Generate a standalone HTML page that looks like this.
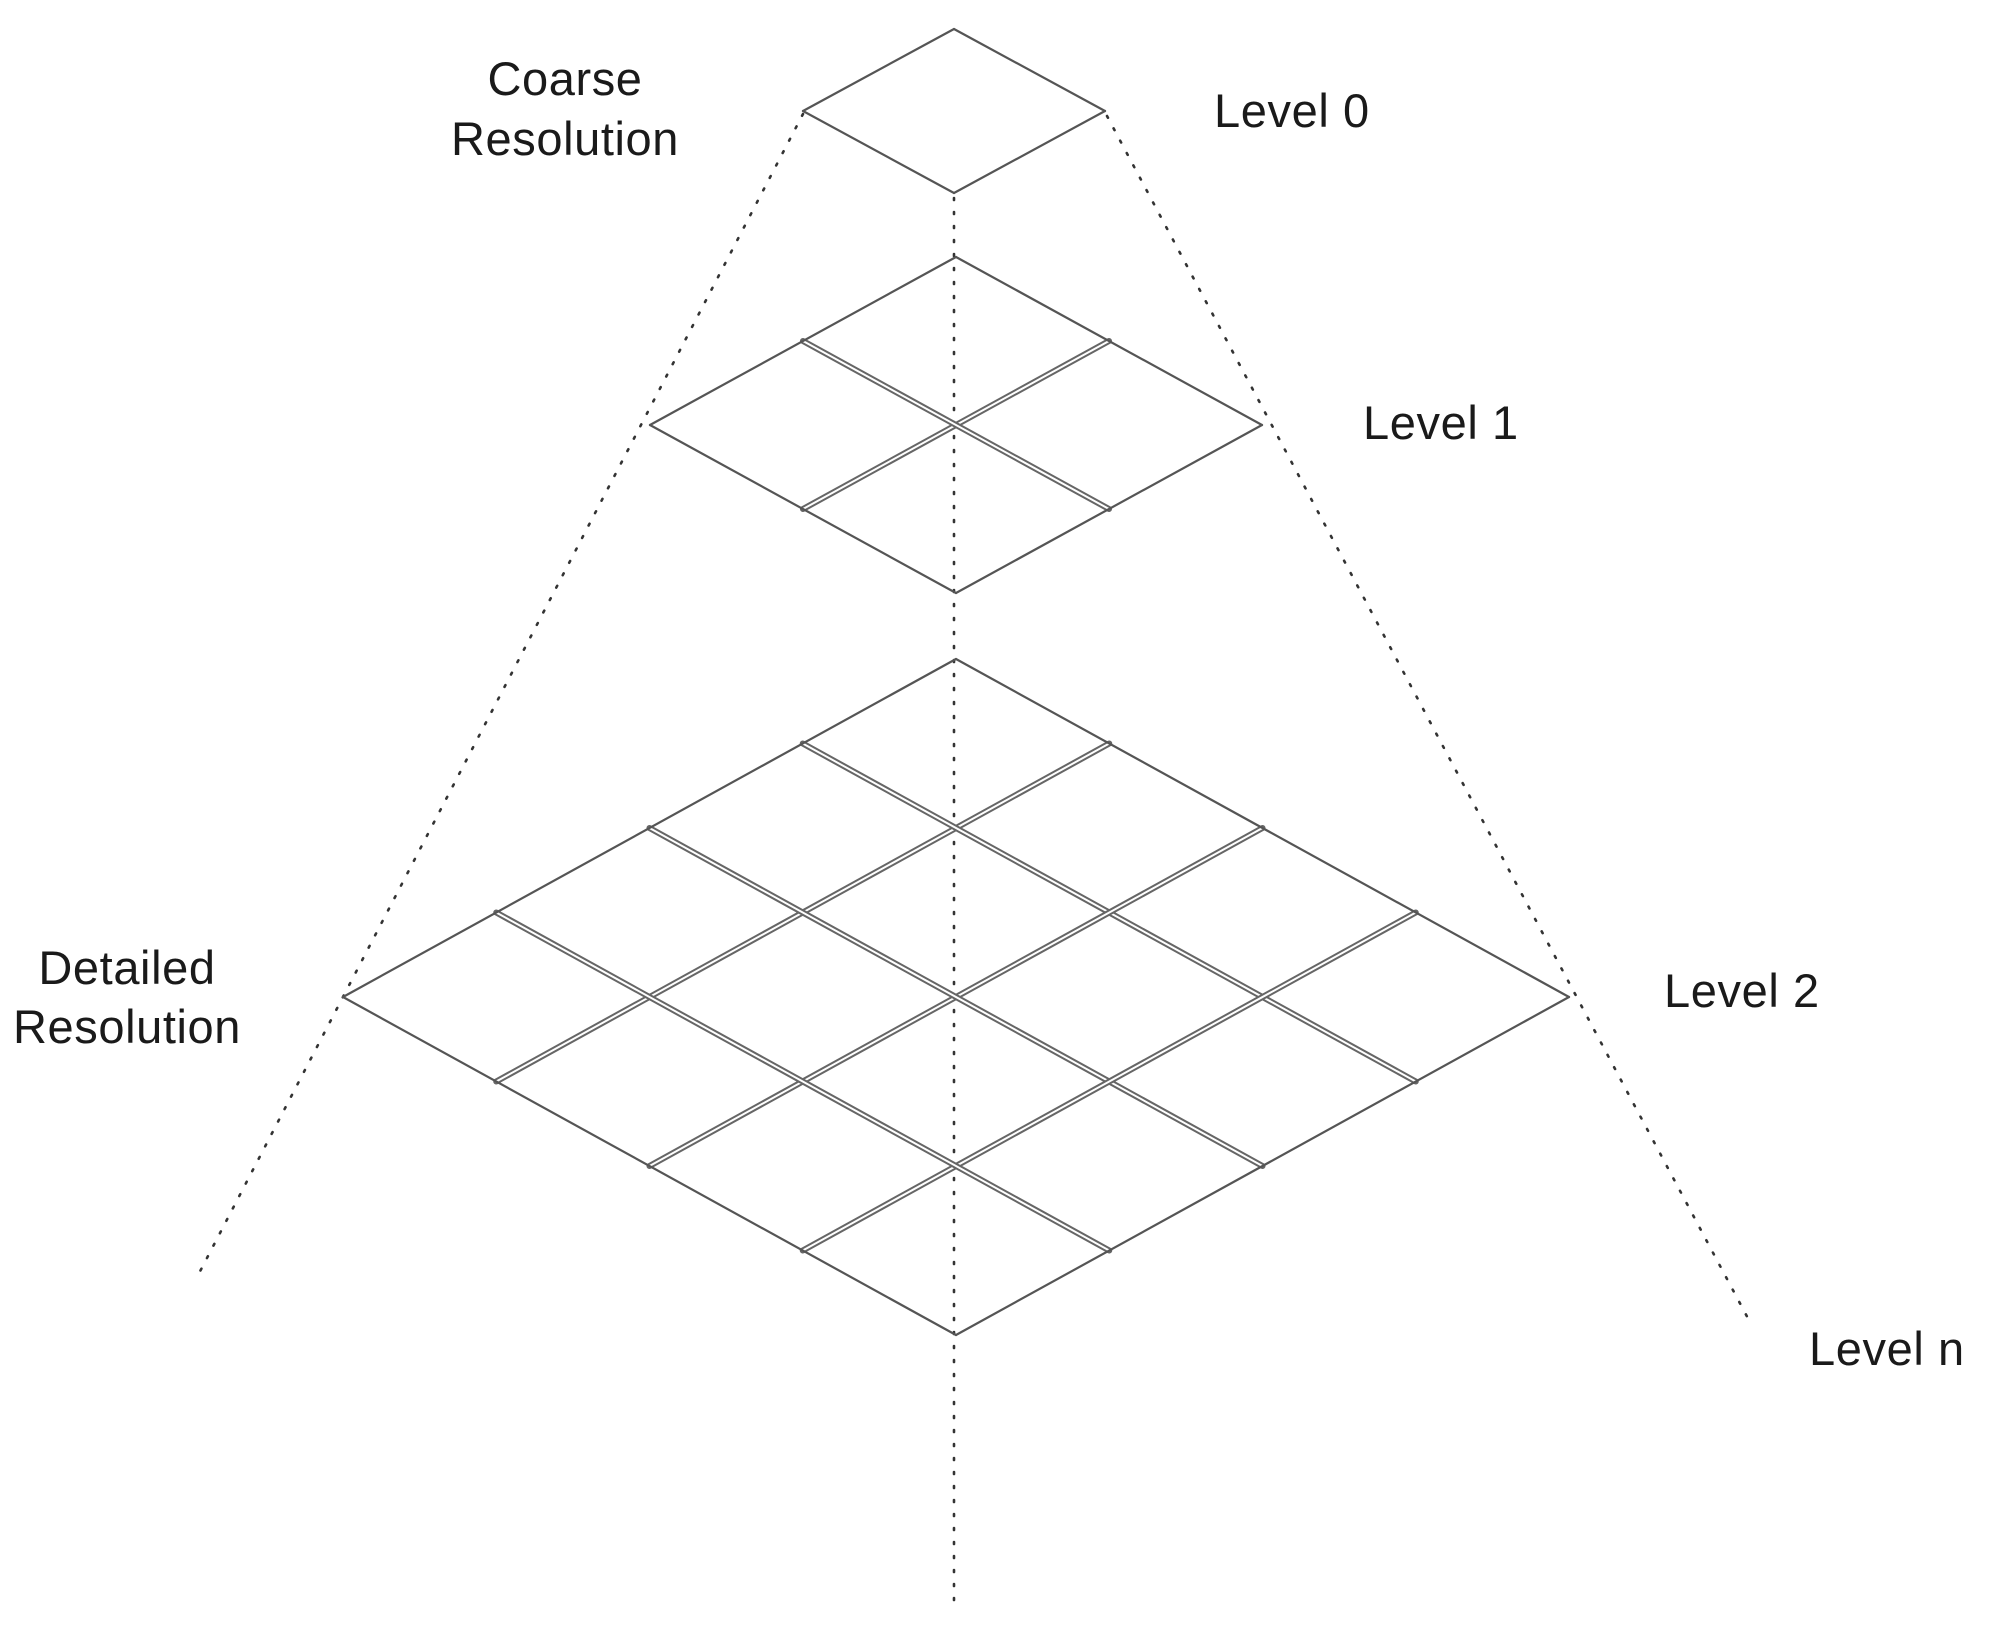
<!DOCTYPE html>
<html><head><meta charset="utf-8"><style>
html,body{margin:0;padding:0;background:#fff;}
svg{display:block;}
text{font-family:"Liberation Sans",Arial,sans-serif;font-size:47px;fill:#1a1a1a;letter-spacing:0.6px;}
</style></head><body>
<svg id="s" width="2011" height="1643" viewBox="0 0 2011 1643" xmlns="http://www.w3.org/2000/svg">
<g stroke="#333" stroke-width="2.6" stroke-dasharray="2 12" stroke-linecap="round" fill="none">
<line x1="803" y1="114" x2="195" y2="1281"/>
<line x1="1107" y1="116" x2="1751" y2="1324"/>
<line x1="954" y1="198" x2="954" y2="1600"/>
</g>
<g id="grid" fill="none" stroke-linecap="round"></g>
<text x="565" y="95" text-anchor="middle">Coarse</text>
<text x="565" y="155" text-anchor="middle">Resolution</text>
<text x="1214" y="127">Level 0</text>
<text x="1363" y="439">Level 1</text>
<text x="1664" y="1007">Level 2</text>
<text x="1809" y="1365">Level n</text>
<text x="127" y="984" text-anchor="middle">Detailed</text>
<text x="127" y="1043" text-anchor="middle">Resolution</text>
</svg>
<script>
var g=document.getElementById('grid'),NS='http://www.w3.org/2000/svg';
function ln(a,b,c,w){var l=document.createElementNS(NS,'line');l.setAttribute('x1',a[0]);l.setAttribute('y1',a[1]);l.setAttribute('x2',b[0]);l.setAttribute('y2',b[1]);l.setAttribute('stroke',c);l.setAttribute('stroke-width',w);g.appendChild(l);}
function lvl(cx,cy,hw,hh,n){
 var T=[cx,cy-hh],R=[cx+hw,cy],L=[cx-hw,cy];
 function P(u,v){return [T[0]+u*(R[0]-T[0])+v*(L[0]-T[0]),T[1]+u*(R[1]-T[1])+v*(L[1]-T[1])];}
 for(var i=1;i<n;i++){
  ln(P(i/n,0),P(i/n,1),'#666',6);ln(P(i/n,0),P(i/n,1),'#fff',2);
  ln(P(0,i/n),P(1,i/n),'#666',6);ln(P(0,i/n),P(1,i/n),'#fff',2);
 }
 ln(P(0,0),P(1,0),'#555',2.2);ln(P(1,0),P(1,1),'#555',2.2);
 ln(P(1,1),P(0,1),'#555',2.2);ln(P(0,1),P(0,0),'#555',2.2);
}
lvl(954,111,151,82,1);
lvl(956,425,306,168,2);
lvl(956,997,613,338,4);
</script>
</body></html>
